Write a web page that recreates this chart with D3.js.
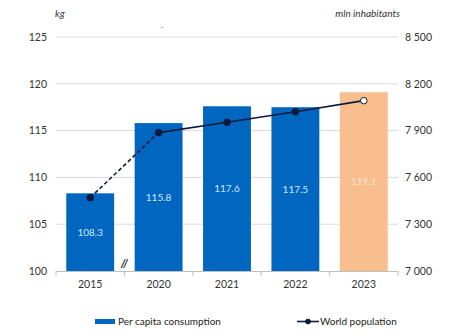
<!DOCTYPE html>
<html>
<head>
<meta charset="utf-8">
<script src="https://cdn.jsdelivr.net/npm/d3@7"></script>
<style>
  html, body { margin: 0; padding: 0; background: #fff; }
  svg { display: block; font-family: Lato, "Open Sans", sans-serif; }
</style>
</head>
<body>
<svg id="chart" width="474" height="336"></svg>
<script>
// Per capita consumption (kg) and world population (mln inhabitants)
const years = ["2015", "2020", "2021", "2022", "2023"];
const consumption = [108.3, 115.8, 117.6, 117.5, 119.1];
const population = [7470, 7887, 7953, 8021, 8092];
const leftTicks = [100, 105, 110, 115, 120, 125];
const rightTicks = [7000, 7300, 7600, 7900, 8200, 8500];

const svg = d3.select("#chart");
const m = { left: 56, right: 398, top: 37, bottom: 271 };

const x = d3.scaleBand().domain(years).range([m.left, m.right]).paddingInner(0.3).paddingOuter(0.15);
const yL = d3.scaleLinear().domain([100, 125]).range([m.bottom, m.top]);
const yR = d3.scaleLinear().domain([7000, 8500]).range([m.bottom, m.top]);

const fmt = d3.formatLocale({ decimal: ".", thousands: " ", grouping: [3], currency: ["", ""] }).format(",d");

// gridlines
svg.append("g").selectAll("line").data(leftTicks.slice(1)).join("line")
  .attr("x1", m.left).attr("x2", m.right)
  .attr("y1", d => yL(d)).attr("y2", d => yL(d))
  .attr("stroke", "#d9d9d9").attr("stroke-width", 1);

// left axis
const axL = svg.append("g").attr("transform", `translate(${m.left},0)`)
  .call(d3.axisLeft(yL).tickValues(leftTicks).tickSize(0).tickPadding(9));
axL.select(".domain").remove();
axL.selectAll("text").attr("font-size", 10.5).attr("fill", "#333").attr("font-family", "Lato, sans-serif");

// right axis
const axR = svg.append("g").attr("transform", `translate(${m.right},0)`)
  .call(d3.axisRight(yR).tickValues(rightTicks).tickFormat(fmt).tickSize(0).tickPadding(7));
axR.select(".domain").remove();
axR.selectAll("text").attr("font-size", 10.5).attr("fill", "#333").attr("font-family", "Lato, sans-serif");

// bars
svg.append("g").selectAll("rect").data(years).join("rect")
  .attr("x", d => x(d))
  .attr("width", x.bandwidth())
  .attr("y", (d, i) => yL(consumption[i]))
  .attr("height", (d, i) => yL(100) - yL(consumption[i]))
  .attr("fill", (d, i) => i === years.length - 1 ? "#f9be8e" : "#0066bf");

// value labels
svg.append("g").selectAll("text").data(years).join("text")
  .attr("x", d => x(d) + x.bandwidth() / 2)
  .attr("y", (d, i) => (yL(consumption[i]) + yL(100)) / 2 + 3.5)
  .attr("text-anchor", "middle")
  .attr("font-size", 10)
  .attr("fill", (d, i) => i === years.length - 1 ? "#fde3cd" : "#cfe6ff")
  .text((d, i) => consumption[i].toFixed(1));

// bottom axis
const step = x.step();
const xAxisLine = svg.append("g");
xAxisLine.append("line")
  .attr("x1", m.left).attr("x2", m.right).attr("y1", m.bottom + 0.5).attr("y2", m.bottom + 0.5)
  .attr("stroke", "#bfbfbf");
const bounds = d3.range(years.length + 1).map(i => m.left + i * (m.right - m.left) / years.length);
xAxisLine.selectAll("line.tick").data(bounds).join("line").attr("class", "tick")
  .attr("x1", d => d).attr("x2", d => d).attr("y1", m.bottom).attr("y2", m.bottom + 5)
  .attr("stroke", "#bfbfbf");
svg.append("g").selectAll("text").data(years).join("text")
  .attr("x", d => x(d) + x.bandwidth() / 2)
  .attr("y", 288)
  .attr("text-anchor", "middle")
  .attr("font-size", 10.5)
  .attr("fill", "#333")
  .text(d => d);

// axis break marker between 2015 and 2020
svg.append("text")
  .attr("x", bounds[1]).attr("y", 267)
  .attr("text-anchor", "middle")
  .attr("font-size", 11).attr("font-style", "italic").attr("font-weight", "bold")
  .attr("fill", "#1a1a1a")
  .text("//");

// population line
const cx = d => x(d) + x.bandwidth() / 2;
const pts = years.map((d, i) => [cx(d), yR(population[i])]);
const line = d3.line();
svg.append("path").attr("d", line(pts.slice(0, 2)))
  .attr("fill", "none").attr("stroke", "#0d1a3d").attr("stroke-width", 1.6)
  .attr("stroke-dasharray", "4,2.5");
svg.append("path").attr("d", line(pts.slice(1)))
  .attr("fill", "none").attr("stroke", "#0d1a3d").attr("stroke-width", 1.6);
svg.append("g").selectAll("circle").data(years).join("circle")
  .attr("cx", d => cx(d))
  .attr("cy", (d, i) => yR(population[i]))
  .attr("r", 3.3)
  .attr("fill", (d, i) => i === years.length - 1 ? "#fff" : "#0d1a3d")
  .attr("stroke", "#0d1a3d").attr("stroke-width", 1);

// axis titles
svg.append("text").attr("x", 55).attr("y", 17)
  .attr("font-size", 10).attr("font-style", "italic").attr("fill", "#333").text("kg");
svg.append("text").attr("x", 400).attr("y", 17).attr("text-anchor", "end")
  .attr("font-size", 10).attr("font-style", "italic").attr("fill", "#333").text("mln inhabitants");
svg.append("text").attr("x", 162).attr("y", 28).attr("text-anchor", "middle")
  .attr("font-size", 8).attr("fill", "#555").text(".");

// legend
const lg = svg.append("g");
lg.append("rect").attr("x", 95).attr("y", 319).attr("width", 20).attr("height", 5).attr("fill", "#0066bf");
lg.append("text").attr("x", 118).attr("y", 325).attr("font-size", 10).attr("fill", "#222").text("Per capita consumption");
lg.append("line").attr("x1", 297).attr("x2", 319).attr("y1", 321.5).attr("y2", 321.5)
  .attr("stroke", "#0d1a3d").attr("stroke-width", 1.6);
lg.append("circle").attr("cx", 308).attr("cy", 321.5).attr("r", 2.8).attr("fill", "#0d1a3d");
lg.append("text").attr("x", 320).attr("y", 325).attr("font-size", 10).attr("fill", "#222").text("World population");
</script>
</body>
</html>
